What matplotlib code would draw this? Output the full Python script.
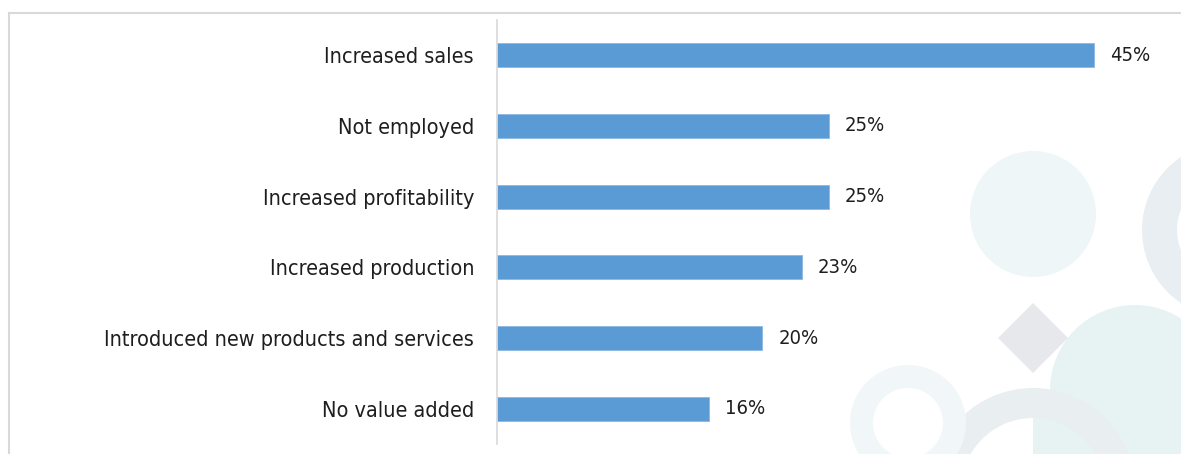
import matplotlib.pyplot as plt
from matplotlib import font_manager
from matplotlib.patches import Circle, Wedge, Polygon, Rectangle
from matplotlib.lines import Line2D

# survey answers, top to bottom
categories = ["Increased sales", "Not employed", "Increased profitability",
              "Increased production", "Introduced new products and services",
              "No value added"]
values = [45, 25, 25, 23, 20, 16]
value_labels = ["45%", "25%", "25%", "23%", "20%", "16%"]


def narrow_font():
    # look for a condensed sans installed on the system
    fonts = font_manager.fontManager.ttflist
    for f in fonts:
        if f.name == "DejaVu Sans" and "Condensed" in f.fname and f.weight in (400, "normal") \
                and f.style == "normal":
            return font_manager.FontProperties(fname=f.fname)
    for f in fonts:
        if f.name == "Liberation Sans Narrow" and f.style == "normal" and f.weight in (400, "normal"):
            return font_manager.FontProperties(fname=f.fname)
    return font_manager.FontProperties(family="Lato")


W, H = 1181, 454
fig = plt.figure(figsize=(W / 100, H / 100), dpi=100)
fig.patch.set_facecolor("white")

# decorative background drawn in pixel coords (y measured from top)
bg = fig.add_axes([0, 0, 1, 1], zorder=0)
bg.set_xlim(0, W)
bg.set_ylim(H, 0)
bg.axis("off")
bg.add_patch(Circle((1033, 214), 63, color="#eef6f7", lw=0))
bg.add_patch(Wedge((1230, 230), 88, 0, 360, width=35, color="#e8eef1", lw=0))
bg.add_patch(Circle((1135, 390), 85, color="#e7f3f3", lw=0))
bg.add_patch(Rectangle((1033, 390), 150, 70, color="#e7f3f3", lw=0))
bg.add_patch(Wedge((1033, 490), 102, 0, 360, width=30, color="#e9eef0", lw=0))
bg.add_patch(Wedge((908, 423), 58, 0, 360, width=23, color="#f1f7f8", lw=0))
bg.add_patch(Polygon([(1033, 303), (1068, 338), (1033, 373), (998, 338)],
                     closed=True, color="#e6e8ec", lw=0))
# frame
bg.add_line(Line2D([9, 9], [13, H], color="#d9d9d9", lw=1.5))
bg.add_line(Line2D([9, W], [13, 13], color="#d9d9d9", lw=1.5))

top, row = 19.6, 70.8
ax = fig.add_axes([497 / W, 1 - (top + 6 * row) / H, (W - 497) / W, 6 * row / H], zorder=1)
ax.patch.set_alpha(0)

y = list(range(len(categories)))
ax.barh(y, values, height=0.34, color="#5b9bd5", edgecolor="#8db8e3", lw=0.6)
ax.set_ylim(len(categories) - 0.5, -0.5)
ax.set_xlim(0, 45 * (W - 497) / (1094 - 497))

fp = narrow_font()
ax.set_yticks(y)
ax.set_yticklabels(categories, fontproperties=fp, fontsize=15.5, color="#1e1e1e")
ax.tick_params(axis="y", length=0, pad=16.5)
ax.set_xticks([])

for yi, v, lab in zip(y, values, value_labels):
    ax.annotate(lab, (v, yi), xytext=(11.5, 0), textcoords="offset points",
                va="center", ha="left", fontproperties=fp, fontsize=14.5, color="#1e1e1e")

for s in ["top", "right", "bottom"]:
    ax.spines[s].set_visible(False)
ax.spines["left"].set_color("#d9d9d9")
ax.spines["left"].set_linewidth(1.2)

fig.savefig("out.png", dpi=100)
